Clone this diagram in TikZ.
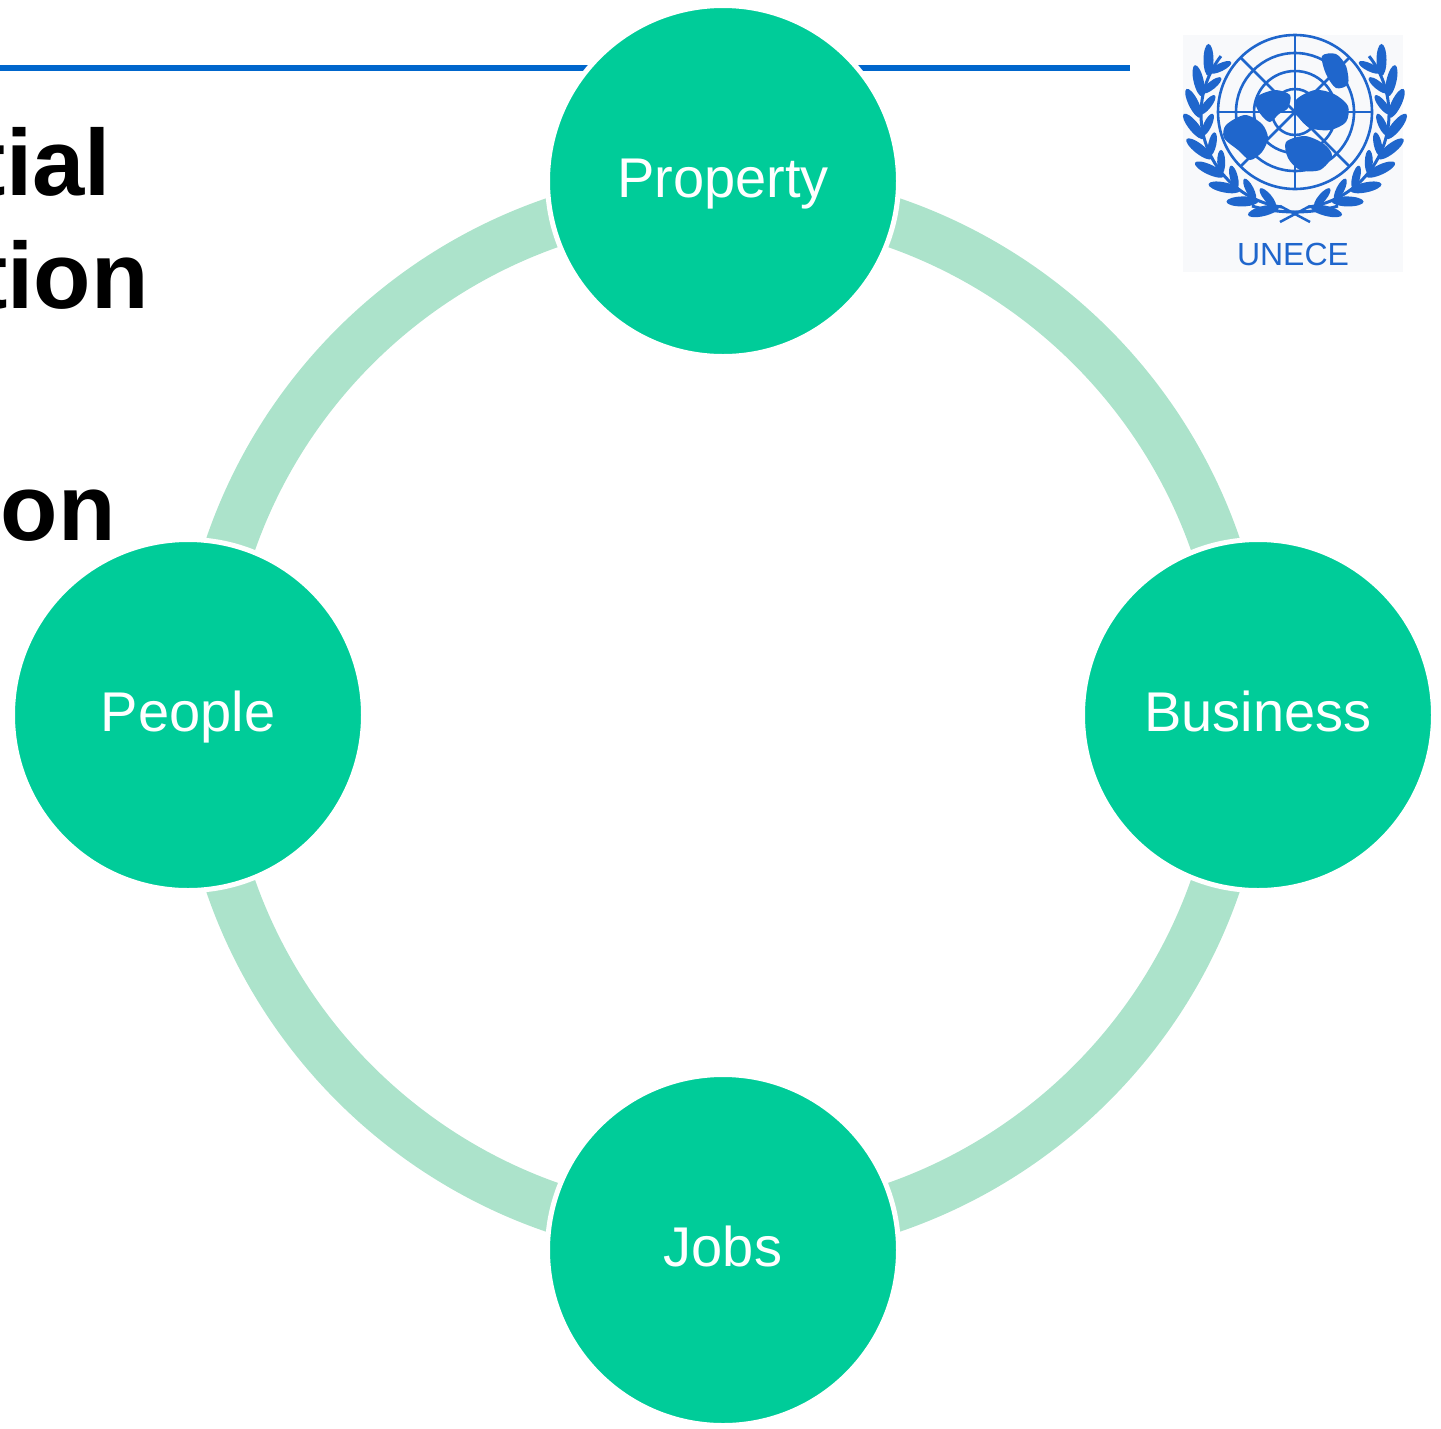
\documentclass[tikz,border=0pt]{standalone}
\usepackage{fontspec}
\setmainfont{Liberation Sans}
\definecolor{nodegreen}{HTML}{00CC99}
\definecolor{ringgreen}{HTML}{ACE3CB}
\definecolor{lineblue}{HTML}{0066CC}
\definecolor{logoblue}{HTML}{1F66CC}
\definecolor{logobg}{HTML}{F8F9FB}
\begin{document}
\begin{tikzpicture}[x=1pt,y=-1pt,
  topic/.style={circle, fill=nodegreen, draw=white, line width=5pt, minimum size=351pt, inner sep=0pt,
    text=white, font=\fontsize{56}{60}\selectfont, text height=32pt, text depth=0pt},
  ringpath/.style={draw=ringgreen, line width=50pt},
  rule/.style={draw=lineblue, line width=6pt},
  titletext/.style={anchor=base east, inner sep=0pt, font=\fontsize{94}{100}\selectfont\bfseries},
  globeline/.style={draw=logoblue, line width=2.6pt},
  leaf/.style={fill=logoblue},
  land/.style={fill=logoblue}]
\useasboundingbox (0,0) rectangle (1441,1428);

% header rule
\coordinate (ruleL) at (0,68);
\coordinate (ruleR) at (1130,68);
\draw[rule] (ruleL) -- (ruleR);

% title fragments
\node[titletext] (t1) at (111,195) {tial};
\node[titletext] (t2) at (149,308) {tion};
\node[titletext] (t3) at (116,540) {on};

% cycle ring
\coordinate (c) at (723,715);
\draw[ringpath] (c) circle[radius=521];

% nodes
\node[topic] (property) at (723,181) {Property};
\node[topic] (business) at (1258,715) {Business};
\node[topic] (jobs) at (723,1250) {Jobs};
\node[topic] (people) at (188,715) {People};

% UNECE logo
\fill[logobg] (1183,35) rectangle (1403,272);
\coordinate (g) at (1295,112);
\coordinate (w) at (1295,114);
\foreach \r in {77,59,41,23} {\draw[globeline] (g) circle[radius=\r];}
\foreach \a in {0,45,90,135} {\draw[globeline] ([shift={(\a:77)}]g) -- ([shift={(\a+180:77)}]g);}
% continents
\fill[land] plot[smooth cycle] coordinates {(1258,96) (1275,90) (1290,95) (1288,108) (1279,114) (1270,122) (1262,116) (1256,106)};
\fill[land] plot[smooth cycle] coordinates {(1226,125) (1245,115) (1262,124) (1268,138) (1262,152) (1250,160) (1238,150) (1224,138)};
\fill[land] plot[smooth cycle] coordinates {(1296,100) (1315,90) (1334,94) (1348,106) (1346,122) (1330,130) (1310,128) (1298,116)};
\fill[land] plot[smooth cycle] coordinates {(1286,142) (1305,136) (1324,144) (1332,156) (1320,170) (1300,170) (1288,158)};
\fill[land] plot[smooth cycle] coordinates {(1322,56) (1336,54) (1346,66) (1348,84) (1336,88) (1326,74)};
% wreath stems
\draw[logoblue, line width=3pt] ([shift={(98:94)}]w) arc[start angle=98, end angle=218, radius=94];
\draw[logoblue, line width=3pt] ([shift={(82:94)}]w) arc[start angle=82, end angle=-38, radius=94];
\foreach \a in {108,121,134,147,160,173,186,199,212} {
  \begin{scope}[shift={(w)}, rotate=-\a]
    \fill[leaf, rotate around={32:(102,0)}] (102,0) ellipse[x radius=5, y radius=16];
    \fill[leaf, rotate around={-32:(88,0)}] (88,0) ellipse[x radius=4, y radius=12];
  \end{scope}
}
\foreach \a in {72,59,46,33,20,7,-6,-19,-32} {
  \begin{scope}[shift={(w)}, rotate=-\a]
    \fill[leaf, rotate around={-32:(102,0)}] (102,0) ellipse[x radius=5, y radius=16];
    \fill[leaf, rotate around={32:(88,0)}] (88,0) ellipse[x radius=4, y radius=12];
  \end{scope}
}
% ribbon
\draw[logoblue, line width=3pt] (1252,206) .. controls (1278,214) and (1312,214) .. (1338,206);
\draw[logoblue, line width=2.5pt] (1280,222) -- (1310,206);
\draw[logoblue, line width=2.5pt] (1310,222) -- (1280,206);
\node[anchor=base, inner sep=0pt, text=logoblue, font=\fontsize{32}{34}\selectfont] (unece) at (1293,265) {UNECE};
\end{tikzpicture}
\end{document}
